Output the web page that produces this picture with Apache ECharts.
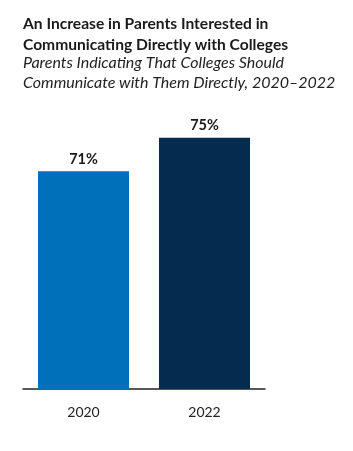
<!DOCTYPE html>
<html>
<head>
<meta charset="utf-8">
<script src="https://cdn.jsdelivr.net/npm/echarts@6/dist/echarts.min.js"></script>
<style>
  html, body { margin: 0; padding: 0; background: #fff; }
  #chart { width: 353px; height: 451px; }
</style>
</head>
<body>
<div id="chart"></div>
<script>
// data
const years = ['2020', '2022']
const shares = [71, 75]
const barColors = ['#0070BA', '#042C4F']

const chart = echarts.init(document.getElementById('chart'))

const option = {
  animation: false,
  title: {
    text: 'An Increase in Parents Interested in\nCommunicating Directly with Colleges',
    subtext: 'Parents Indicating That Colleges Should\nCommunicate with Them Directly, 2020\u20132022',
    left: 18,
    top: 8,
    itemGap: -2,
    textStyle: {
      fontFamily: 'Lato',
      fontSize: 15.6,
      fontWeight: 'bold',
      color: '#1a1a1a',
      lineHeight: 21
    },
    subtextStyle: {
      fontFamily: 'Lato',
      fontSize: 16,
      fontStyle: 'italic',
      color: '#222',
      lineHeight: 20
    }
  },
  grid: {
    left: 23,
    right: 88,
    top: 96,
    bottom: 62,
    containLabel: false
  },
  xAxis: {
    type: 'category',
    data: years,
    axisLine: { lineStyle: { color: '#222', width: 1.5 } },
    axisTick: { show: false },
    axisLabel: {
      margin: 16,
      fontFamily: 'Lato',
      fontSize: 14,
      color: '#222'
    }
  },
  yAxis: {
    type: 'value',
    min: 45,
    max: 80,
    show: false,
    splitLine: { show: false }
  },
  series: [
    {
      type: 'bar',
      barWidth: 91,
      data: shares.map((v, i) => ({ value: v, itemStyle: { color: barColors[i] } })),
      label: {
        show: true,
        position: 'top',
        distance: 5,
        formatter: '{c}%',
        fontFamily: 'Lato',
        fontSize: 14.5,
        fontWeight: 'bold',
        color: '#1a1a1a'
      }
    }
  ]
}

chart.setOption(option)
</script>
</body>
</html>
